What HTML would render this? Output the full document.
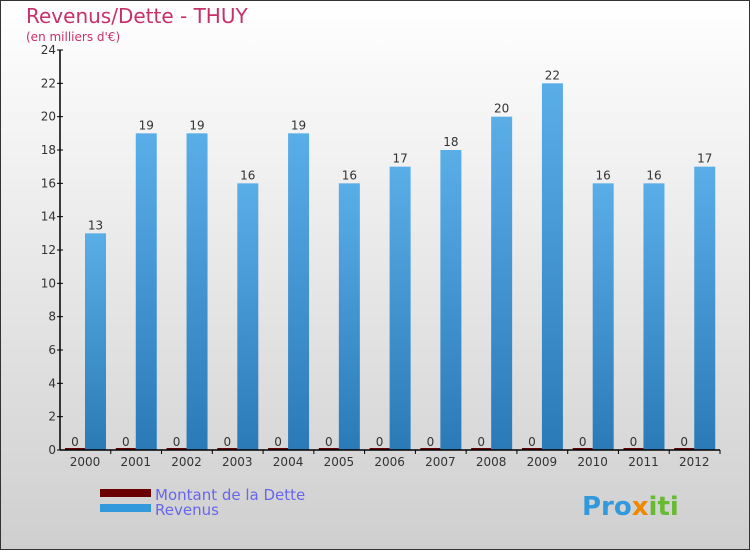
<!DOCTYPE html>
<html><head><meta charset="utf-8"><style>
body{margin:0}
#c{width:750px;height:550px;position:relative;font-family:"DejaVu Sans","Liberation Sans",sans-serif}
</style></head><body>
<div id="c">
<svg id="s" width="750" height="550" xmlns="http://www.w3.org/2000/svg">
<defs>
<linearGradient id="bg" x1="0" y1="0" x2="0" y2="1"><stop offset="0" stop-color="#ffffff"/><stop offset="1" stop-color="#cfcfcf"/></linearGradient>
<linearGradient id="bl" x1="0" y1="0" x2="0" y2="1"><stop offset="0" stop-color="#5aaee8"/><stop offset="1" stop-color="#2a7ab8"/></linearGradient>
</defs>
<rect x="0.5" y="0.5" width="749" height="549" fill="url(#bg)" stroke="#333"/>
<text x="26" y="23" font-size="20" fill="#c8306a">Revenus/Dette - THUY</text>
<text x="26" y="41" font-size="12" fill="#c8306a">(en milliers d'€)</text>
<g id="plot"></g>
<rect x="100" y="489" width="51" height="8" fill="#6b0000"/>
<rect x="100" y="504" width="51" height="8" fill="#3399dd"/>
<text x="155" y="500" font-size="15" fill="#6666ee">Montant de la Dette</text>
<text x="155" y="515" font-size="15" fill="#6666ee">Revenus</text>
<text x="582" y="515" font-size="26" font-weight="bold" fill="#3399dd">Pro<tspan fill="#ee8800">x</tspan><tspan fill="#66bb33">iti</tspan></text>
</svg>
</div>
<script>
const years=["2000","2001","2002","2003","2004","2005","2006","2007","2008","2009","2010","2011","2012"];
const dette=[0,0,0,0,0,0,0,0,0,0,0,0,0];
const revenus=[13,19,19,16,19,16,17,18,20,22,16,16,17];
const ticks=[0,2,4,6,8,10,12,14,16,18,20,22,24];
const NS="http://www.w3.org/2000/svg";
const g=document.getElementById('plot');
const x0=60,x1=720,y0=450,y1=50,max=24;
const gw=(x1-x0)/years.length;
function y(v){return y0-(v/max)*(y0-y1);}
function mk(t,a){const e=document.createElementNS(NS,t);for(const k in a)e.setAttribute(k,a[k]);g.appendChild(e);return e;}
ticks.forEach(t=>{
 const l=mk('line',{x1:x0-3,x2:x0+3,y1:y(t),y2:y(t),stroke:'#000'});
 
 
 const tx=mk('text',{x:x0-4,y:y(t)+4,'font-size':12,fill:'#333','text-anchor':'end'});
 tx.textContent=t;
 
 
});
years.forEach((yr,i)=>{
 const gx=x0+i*gw;
 const d=mk('rect',{x:gx+5,y:y(dette[i])-2,width:20,height:y0-y(dette[i])+2,fill:'#6b0000'});
 
 
 const r=mk('rect',{x:gx+25,y:y(revenus[i]),width:21,height:y0-y(revenus[i]),fill:'url(#bl)'});
 
 
 const t1=mk('text',{x:gx+15,y:y(dette[i])-4,'font-size':12,fill:'#333','text-anchor':'middle'});
 t1.textContent=dette[i];
 
 
 const t2=mk('text',{x:gx+35.5,y:y(revenus[i])-4,'font-size':12,fill:'#333','text-anchor':'middle'});
 t2.textContent=revenus[i];
 
 
 const xl=mk('text',{x:gx+25,y:466,'font-size':12,fill:'#333','text-anchor':'middle'});
 xl.textContent=yr;
 
 
 const xt=mk('line',{x1:gx+gw,x2:gx+gw,y1:y0,y2:y0+4,stroke:'#000'});
 
 
});
const ax=mk('line',{x1:x0,x2:x0,y1:y1,y2:y0,stroke:'#000','stroke-width':1.5});


const bx=mk('line',{x1:x0,x2:x1,y1:y0,y2:y0,stroke:'#000','stroke-width':1.5});


</script>
</body></html>
